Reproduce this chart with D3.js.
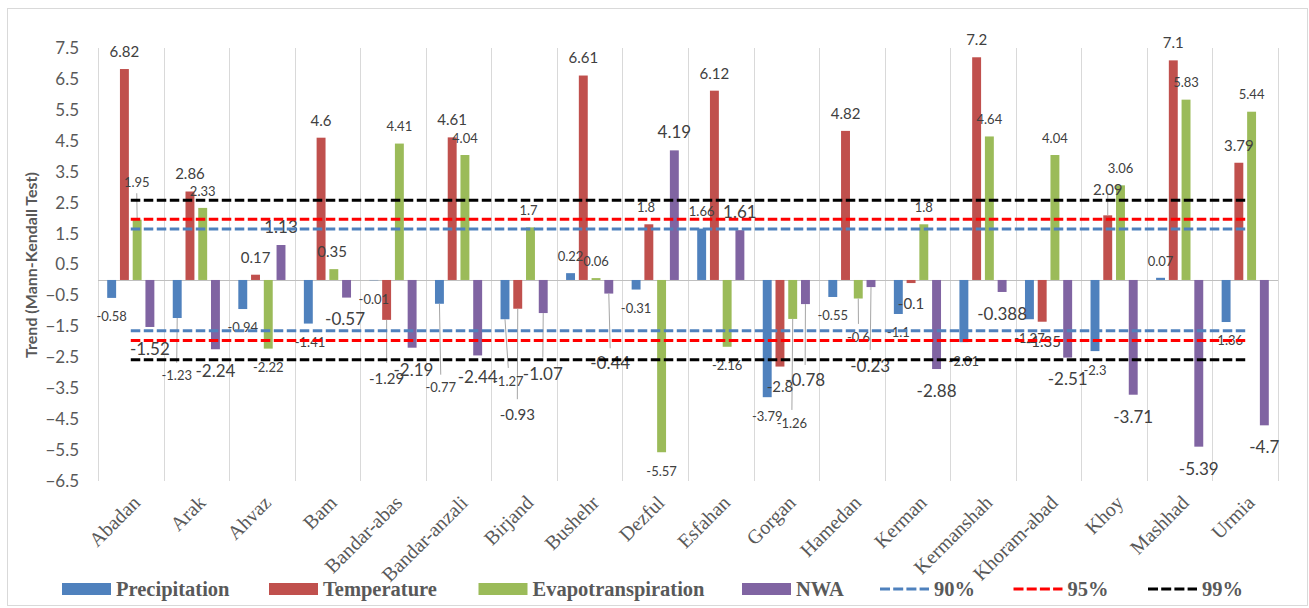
<!DOCTYPE html>
<html><head><meta charset="utf-8">
<script src="https://cdn.jsdelivr.net/npm/d3@7"></script>
<style>body{margin:0;background:#fff;} svg{display:block;}</style>
</head><body><svg id="chart" width="1309" height="608"></svg>
<script>
// ---------- data ----------
const categories = ["Abadan","Arak","Ahvaz","Bam","Bandar-abas","Bandar-anzali","Birjand","Bushehr","Dezful","Esfahan","Gorgan","Hamedan","Kerman","Kermanshah","Khoram-abad","Khoy","Mashhad","Urmia"];
const seriesNames = ["Precipitation","Temperature","Evapotranspiration","NWA"];
const precipitation = [-0.58,-1.23,-0.94,-1.41,-0.01,-0.77,-1.27,0.22,-0.31,1.66,-3.79,-0.55,-1.1,-2.01,-1.27,-2.3,0.07,-1.36];
const temperature = [6.82,2.86,0.17,4.6,-1.29,4.61,-0.93,6.61,1.8,6.12,-2.8,4.82,-0.1,7.2,-1.35,2.09,7.1,3.79];
const evapotranspiration = [1.95,2.33,-2.22,0.35,4.41,4.04,1.7,0.06,-5.57,-2.16,-1.26,-0.6,1.8,4.64,4.04,3.06,5.83,5.44];
const nwa = [-1.52,-2.24,1.13,-0.57,-2.19,-2.44,-1.07,-0.44,4.19,1.61,-0.78,-0.23,-2.88,-0.388,-2.51,-3.71,-5.39,-4.7];
const levelNames = ["90%","95%","99%"];
const levelValues = [1.645,1.96,2.576];
const yTicks = [7.5,6.5,5.5,4.5,3.5,2.5,1.5,0.5,-0.5,-1.5,-2.5,-3.5,-4.5,-5.5,-6.5];
const yTitle = "Trend (Mann-Kendall Test)";

// ---------- styles / layout ----------
const seriesValues = [precipitation, temperature, evapotranspiration, nwa];
const barColors = ["#4F81BD","#C0504D","#9BBB59","#8064A2"];
const levelColors = ["#4F81BD","#FF0000","#000000"];
const labelSizes = [
  [13,13,13,13,13,13,13,13,13,13,13,13,13,13,13,13,13,13],
  [15,15,15,15,15,15,15,15,13,15,15,15,15,15,15,15,15,15],
  [13,13,13,15,13,13,13,13,13,13,13,13,13,13,13,13,13,13],
  [17,17,17,17,17,17,17,17,17,17,17,17,17,17,17,17,17,17]
];
// manual label moves: [series, category, dx, dy, leaderGap]
const labelMoves = [
 [0,1,-0.5,57.7,13],[0,5,1.3,83.9,13],[0,6,3.3,61.7,13],[0,3,1.7,null,null],[0,17,1.7,null,null],
 [1,4,0,59,16],[1,6,-0.4,105.5,15],[1,8,-2.8,null,null],[1,15,0,-25.4,4],[1,14,1.2,null,null],
 [2,0,-0.4,-37,10.6],[2,3,-1.7,null,null],[2,6,-2,null,null],[2,10,-0.8,104.3,13.3],[2,11,0.2,38.7,13.3],
 [3,6,-0.4,60.9,16.3],[3,7,1.4,69.7,15],[3,10,-0.3,75.9,15],[3,11,-0.8,78.9,16],[3,3,-1.5,null,null],[3,4,1.3,null,null]
];

const svg = d3.select("#chart");
svg.append("rect").attr("x",7.5).attr("y",8.5).attr("width",1300).attr("height",597)
  .attr("fill","#fff").attr("stroke","#D9D9D9");

const x0 = d3.scaleBand().domain(categories).range([98,1278]).padding(0);
const bw0 = x0.bandwidth();
const x1 = d3.scaleBand().domain(seriesNames).range([9.2, bw0-9.2]).paddingInner(0.3);
const y = d3.scaleLinear().domain([-6.5,7.5]).range([481,48]);

// vertical gridlines at category boundaries
const bounds = categories.map(c => x0(c)).concat([x0.range()[1]]);
svg.append("g").selectAll("line").data(bounds).join("line")
  .attr("x1", d => Math.round(d)+0.5).attr("x2", d => Math.round(d)+0.5)
  .attr("y1", y(7.5)).attr("y2", y(-6.5))
  .attr("stroke","#D9D9D9").attr("stroke-width",1);

// zero line
svg.append("line").attr("x1",98).attr("x2",1278)
  .attr("y1",Math.round(y(0))+0.5).attr("y2",Math.round(y(0))+0.5)
  .attr("stroke","#BFBFBF").attr("stroke-width",1);

// y axis
const yAxis = svg.append("g").attr("transform","translate(98,0)")
  .call(d3.axisLeft(y).tickValues(yTicks).tickSize(0).tickPadding(19).tickFormat(d => d3.format(".1f")(d)));
yAxis.select(".domain").remove();
yAxis.selectAll("text").attr("font-family","Lato, 'Open Sans', sans-serif").attr("font-size",17).attr("fill","#595959");

svg.append("text").attr("transform","translate(36.5,265) rotate(-90)")
  .attr("text-anchor","middle").attr("font-family","Lato, sans-serif").attr("font-weight","bold")
  .attr("font-size",16).attr("fill","#595959").text(yTitle);

// category labels
svg.append("g").selectAll("text").data(categories).join("text")
  .attr("transform", c => `translate(${x0(c)+bw0/2+10.5},504) rotate(-45)`)
  .attr("text-anchor","end").attr("font-family","'Liberation Serif', serif").attr("font-size",20)
  .attr("fill","#595959").text(c => c);

// bars
const barData = [];
seriesValues.forEach((vals, s) => vals.forEach((v, i) => barData.push({s, i, v})));
svg.append("g").selectAll("rect").data(barData).join("rect")
  .attr("x", d => x0(categories[d.i]) + x1(seriesNames[d.s]))
  .attr("width", x1.bandwidth())
  .attr("y", d => y(Math.max(0, d.v)))
  .attr("height", d => Math.abs(y(d.v) - y(0)))
  .attr("fill", d => barColors[d.s]);

// labels
const moveMap = {};
labelMoves.forEach(m => { moveMap[m[0]+":"+m[1]] = m; });
const labels = barData.map(d => {
  const fs = labelSizes[d.s][d.i];
  const bx = x0(categories[d.i]) + x1(seriesNames[d.s]) + x1.bandwidth()/2;
  const by = y(d.v);
  let dx = 0, dy = d.v >= 0 ? -(fs*0.3+13) : (fs*0.75+9), lead = null;
  const m = moveMap[d.s+":"+d.i];
  if (m) { dx = m[2]; if (m[3] !== null) dy = m[3]; lead = m[4]; }
  return {d, fs, bx, by, lx: bx+dx, ly: by+dy, lead};
});
const lg = svg.append("g");
lg.selectAll("line").data(labels.filter(l => l.lead !== null)).join("line")
  .attr("x1", l => l.bx).attr("y1", l => l.by)
  .attr("x2", l => l.lx).attr("y2", l => l.ly > l.by ? l.ly - l.lead : l.ly + l.lead)
  .attr("stroke","#A6A6A6").attr("stroke-width",1);
lg.selectAll("text").data(labels).join("text")
  .attr("x", l => l.lx).attr("y", l => l.ly + 0.36*l.fs)
  .attr("text-anchor","middle").attr("font-family","Lato, sans-serif")
  .attr("font-size", l => l.fs).attr("fill","#404040")
  .text(l => String(l.d.v));

// threshold lines
const line = d3.line().x(c => x0(c)+bw0/2);
levelValues.forEach((v, k) => {
  [v, -v].forEach(val => {
    svg.append("path").datum(categories)
      .attr("d", line.y(() => y(val)))
      .attr("fill","none").attr("stroke",levelColors[k]).attr("stroke-width",3)
      .attr("stroke-dasharray","9.5,3.5");
  });
});

// legend
const legendItems = [
  {name: seriesNames[0], kind:"rect", color: barColors[0], x: 62},
  {name: seriesNames[1], kind:"rect", color: barColors[1], x: 269},
  {name: seriesNames[2], kind:"rect", color: barColors[2], x: 478.5},
  {name: seriesNames[3], kind:"rect", color: barColors[3], x: 742},
  {name: levelNames[0], kind:"line", color: levelColors[0], x: 880},
  {name: levelNames[1], kind:"line", color: levelColors[1], x: 1013.5},
  {name: levelNames[2], kind:"line", color: levelColors[2], x: 1148}
];
const leg = svg.append("g");
legendItems.forEach(it => {
  if (it.kind === "rect") {
    leg.append("rect").attr("x", it.x).attr("y", 583).attr("width", 49).attr("height", 12).attr("fill", it.color);
  } else {
    leg.append("line").attr("x1", it.x).attr("x2", it.x+49).attr("y1", 589).attr("y2", 589)
      .attr("stroke", it.color).attr("stroke-width", 3).attr("stroke-dasharray","10,3.2");
  }
  leg.append("text").attr("x", it.x+54).attr("y", 596).attr("font-family","'Liberation Serif', serif")
    .attr("font-weight","bold").attr("font-size",20.5).attr("fill","#595959").text(it.name);
});
</script></body></html>
